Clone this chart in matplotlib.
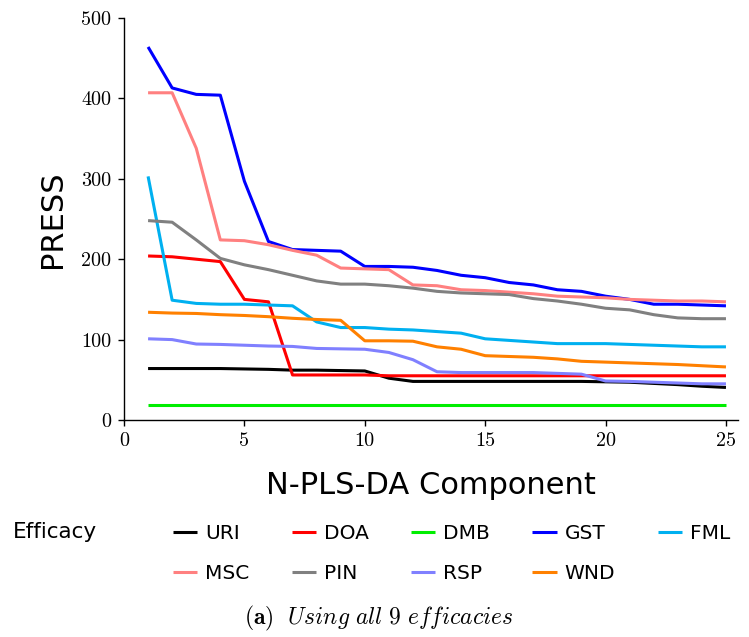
import matplotlib
matplotlib.use('Agg')
import matplotlib.pyplot as plt
from matplotlib.ticker import FuncFormatter

plt.rcParams['mathtext.fontset'] = 'cm'

components = list(range(1, 26))

efficacies = ['URI', 'DOA', 'DMB', 'GST', 'FML', 'MSC', 'PIN', 'RSP', 'WND']
colors = ['#000000', '#ff0000', '#00ee00', '#0000ff', '#00b0f0',
          '#ff8080', '#808080', '#8080ff', '#ff8000']

uri = [64, 64, 64, 64, 63.5, 63, 62, 62, 61.5, 61, 52, 48, 48, 48, 48, 48, 48, 48, 48, 47.5, 47, 45.5, 44, 42, 40.5]
doa = [204, 203, 200, 197, 150, 147, 56, 56, 56, 56, 55, 55, 55, 55, 55, 55, 55, 55, 55, 55, 55, 55, 55, 55, 55]
dmb = [19, 19, 19, 19, 19, 19, 19, 19, 19, 19, 19, 19, 19, 19, 19, 19, 19, 19, 19, 19, 19, 19, 19, 19, 19]
gst = [464, 413, 405, 404, 297, 222, 212, 211, 210, 191, 191, 190, 186, 180, 177, 171, 168, 162, 160, 154, 150, 144, 144, 143, 142]
fml = [303, 149, 145, 144, 144, 143, 142, 122, 115, 115, 113, 112, 110, 108, 101, 99, 97, 95, 95, 95, 94, 93, 92, 91, 91]
msc = [407, 407, 338, 224, 223, 218, 211, 205, 189, 188, 187, 168, 167, 162, 161, 159, 157, 154, 153, 152, 150, 149, 148, 148, 147]
pin = [248, 246, 224, 201, 193, 187, 180, 173, 169, 169, 167, 164, 160, 158, 157, 156, 151, 148, 144, 139, 137, 131, 127, 126, 126]
rsp = [101, 100, 94.5, 94, 93, 92, 91.5, 89, 88.5, 88, 84, 75, 60, 59, 59, 59, 59, 58, 57, 48.5, 48, 47, 46, 45, 45]
wnd = [134, 133, 132.5, 131, 130, 128.5, 126.5, 125, 124, 98.5, 98.5, 98, 91, 88, 80, 79, 78, 76, 73, 72, 71, 70, 69, 67.5, 66]

series = [uri, doa, dmb, gst, fml, msc, pin, rsp, wnd]

W, H = 749, 637
fig = plt.figure(figsize=(W / 100, H / 100), dpi=100)
ax = fig.add_axes([124 / W, 1 - 420 / H, 614 / W, 402 / H])

lines = {}
for name, vals, c in zip(efficacies, series, colors):
    ln, = ax.plot(components, vals, color=c, lw=2.2, solid_capstyle='butt', label=name)
    lines[name] = ln

ax.set_xlim(0, 25.5)
ax.set_ylim(0, 500)
ax.set_xticks([0, 5, 10, 15, 20, 25])
ax.set_yticks([0, 100, 200, 300, 400, 500])
ax.spines['top'].set_visible(False)
ax.spines['right'].set_visible(False)
for s in ['left', 'bottom']:
    ax.spines[s].set_linewidth(1.0)
ax.tick_params(direction='out', length=4, width=1, pad=5)
ax.xaxis.set_major_formatter(FuncFormatter(lambda v, p: f"{v:g}"))
ax.yaxis.set_major_formatter(FuncFormatter(lambda v, p: f"{v:g}"))
for lab in ax.get_xticklabels() + ax.get_yticklabels():
    lab.set_fontfamily('cmr10')
    lab.set_fontsize(14.5)

ax.set_xlabel('N-PLS-DA Component', fontsize=22, labelpad=15)
ax.set_ylabel('PRESS', fontsize=22, labelpad=10)

# legend filled column-wise, so order handles to read row-wise
order = ['URI', 'MSC', 'DOA', 'PIN', 'DMB', 'RSP', 'GST', 'WND', 'FML']
fig.legend([lines[n] for n in order], order, loc='upper left',
           bbox_to_anchor=(173 / W, 1 - 524 / H), ncol=5, frameon=False,
           fontsize=14.5, handlelength=1.2, handletextpad=0.4,
           columnspacing=2.1, labelspacing=1.05, borderpad=0, borderaxespad=0)
fig.text(13 / W, 1 - 532 / H, 'Efficacy', fontsize=15.5, va='center', ha='left')

fig.text(379 / W, 1 - 618 / H, r'$\mathbf{(a)}\ \ \mathit{Using\ all\ 9\ efficacies}$',
         fontsize=17, ha='center', va='center')

fig.savefig('out.png', dpi=100)
